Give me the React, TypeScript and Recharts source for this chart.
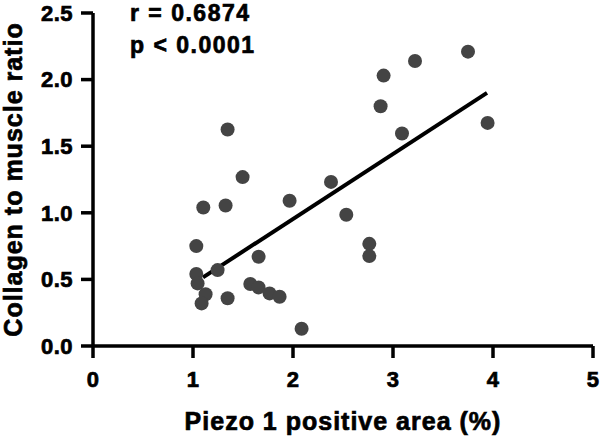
import { ScatterChart, Scatter, XAxis, YAxis, Label, ReferenceLine } from 'recharts';

// Piezo 1 positive area (%)
const piezoArea = [
  1.346, 1.496, 1.103, 1.326, 1.966, 3.75, 3.22, 2.906, 2.876, 3.946,
  3.09, 2.38, 2.533, 1.033, 1.656, 1.246, 1.033, 1.046, 1.126, 1.086,
  1.346, 1.573, 1.656, 1.766, 1.866, 2.086, 2.763, 2.763,
];
// Collagen to muscle ratio
const collagenRatio = [
  1.625, 1.268, 1.04, 1.055, 1.09, 2.21, 2.14, 2.03, 1.8, 1.675,
  1.595, 1.232, 0.985, 0.75, 0.67, 0.57, 0.54, 0.47, 0.388, 0.32,
  0.358, 0.465, 0.44, 0.395, 0.37, 0.13, 0.767, 0.675,
];
const fitX = [1.1, 3.94];
const fitY = [0.515, 1.9];
const xTicks = [0, 1, 2, 3, 4, 5];
const yTicks = [0, 0.5, 1, 1.5, 2, 2.5];
const stats = ['r = 0.6874', 'p < 0.0001'];

const points = piezoArea.map((x, i) => ({ x, y: collagenRatio[i] }));

const FONT = '"Liberation Sans", Arial, Helvetica, sans-serif';
const heavy = { fill: '#000', stroke: '#000', strokeWidth: 0.7, fontWeight: 700, fontFamily: FONT };
const tickStyle = { ...heavy, fontSize: 22, letterSpacing: 0.5 };
const titleStyle = { ...heavy, fontSize: 25, letterSpacing: 1 };

const Dot = (props: any) => <circle cx={props.cx} cy={props.cy} r={7} fill="#444" />;

export default function App() {
  return (
    <div style={{ position: 'absolute', left: 0, top: 0, width: 601, height: 438, background: '#fff' }}>
      <ScatterChart width={601} height={438} margin={{ top: 13, right: 8, bottom: 0, left: 0 }}>
        <XAxis
          type="number"
          dataKey="x"
          domain={[0, 5]}
          ticks={xTicks}
          height={92}
          stroke="#000"
          strokeWidth={3.5}
          tickSize={12}
          tickMargin={13}
          tick={tickStyle}
          interval={0}
        >
          <Label value="Piezo 1 positive area (%)" position="insideBottom" offset={8} style={titleStyle} />
        </XAxis>
        <YAxis
          type="number"
          dataKey="y"
          domain={[0, 2.5]}
          ticks={yTicks}
          width={93}
          stroke="#000"
          strokeWidth={3.5}
          tickSize={12}
          tickMargin={8}
          tick={tickStyle}
          tickFormatter={(v: number) => v.toFixed(1)}
          interval={0}
        >
          <Label
            value="Collagen to muscle ratio"
            angle={-90}
            position="insideLeft"
            offset={13}
            style={{ ...titleStyle, textAnchor: 'middle' }}
          />
        </YAxis>
        <ReferenceLine
          segment={[{ x: fitX[0], y: fitY[0] }, { x: fitX[1], y: fitY[1] }]}
          stroke="#000"
          strokeWidth={4}
          ifOverflow="visible"
        />
        <Scatter data={points} shape={Dot} isAnimationActive={false} />
        {stats.map((s, i) => (
          <text key={s} x={130} y={21 + i * 32} fontSize={23} letterSpacing={1.5} {...heavy}>
            {s}
          </text>
        ))}
      </ScatterChart>
    </div>
  );
}
